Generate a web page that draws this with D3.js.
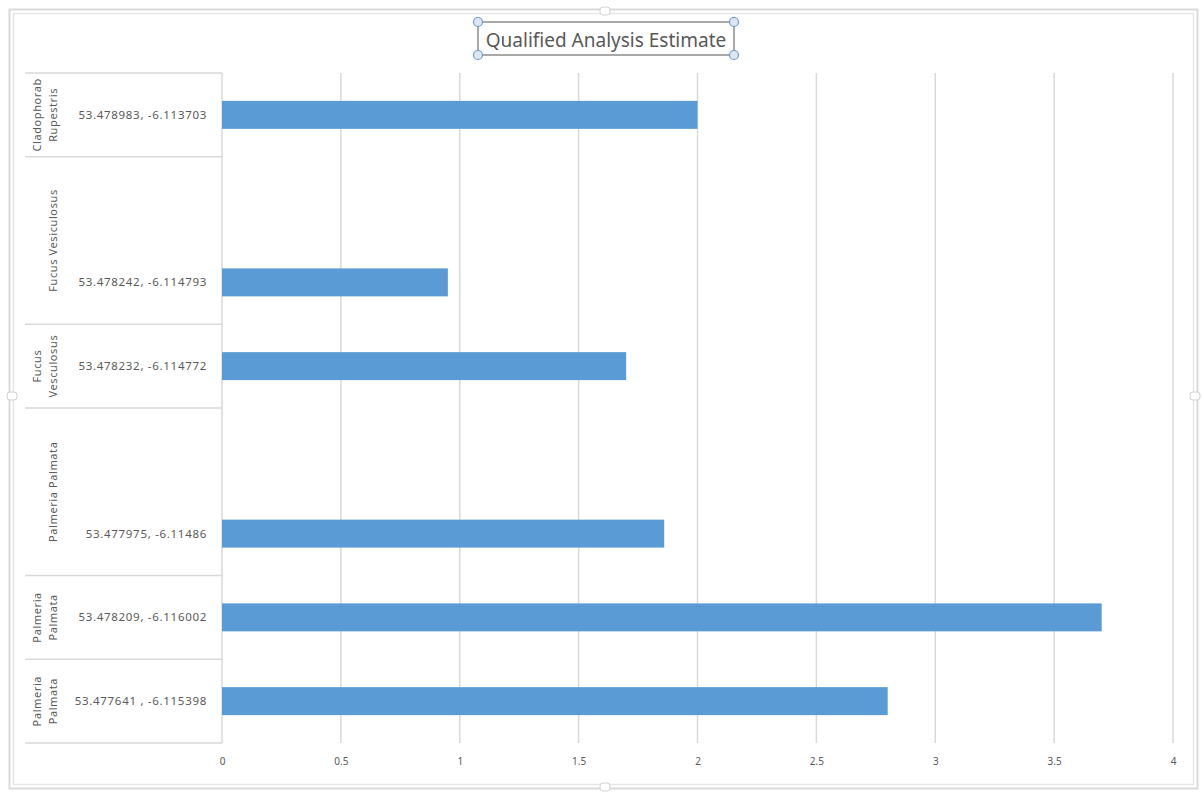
<!DOCTYPE html>
<html>
<head>
<meta charset="utf-8">
<script src="https://cdn.jsdelivr.net/npm/d3@7"></script>
<style>
  html, body { margin: 0; padding: 0; background: #ffffff; }
  svg { display: block; }
</style>
</head>
<body>
<svg id="chart" width="1203" height="792"></svg>
<script>
// Chart data: one slot per row, top to bottom
const groupNames = ["Cladophorab Rupestris", "Fucus Vesiculosus", "Fucus Vesculosus", "Palmeria Palmata", "Palmeria Palmata", "Palmeria Palmata"];
const groupLines = [["Cladophorab", "Rupestris"], ["Fucus Vesiculosus"], ["Fucus", "Vesculosus"], ["Palmeria Palmata"], ["Palmeria", "Palmata"], ["Palmeria", "Palmata"]];
const slotGroup = [0, 1, 1, 2, 3, 3, 4, 5];
const locations = ["53.478983, -6.113703", "", "53.478242, -6.114793", "53.478232, -6.114772", "", "53.477975, -6.11486", "53.478209,  -6.116002", "53.477641 , -6.115398"];
const estimates = [2.0, null, 0.95, 1.7, null, 1.86, 3.7, 2.8];
const xTicks = [0, 0.5, 1, 1.5, 2, 2.5, 3, 3.5, 4];
const chartTitle = "Qualified Analysis Estimate";

const svg = d3.select("#chart");
const font = "'Noto Sans', 'Open Sans', sans-serif";
const textColor = "#595959";

// Plot geometry
const plot = { left: 222, right: 1173, top: 73, bottom: 743 };
const catLeft = 25;

const x = d3.scaleLinear().domain([0, 4]).range([plot.left, plot.right]);
const slot = d3.scaleBand().domain(d3.range(slotGroup.length)).range([plot.top, plot.bottom]);
const bar = d3.scaleBand().domain(d3.range(slotGroup.length)).range([plot.top, plot.bottom])
  .paddingInner(0.666).paddingOuter(0.333);

// Chart-area frame (selected object outline)
svg.append("rect").attr("x", 9.5).attr("y", 9.5).attr("width", 1188).attr("height", 779)
  .attr("fill", "none").attr("stroke", "#dadada").attr("stroke-width", 2);
svg.append("rect").attr("x", 13.5).attr("y", 13.5).attr("width", 1180).attr("height", 771)
  .attr("fill", "none").attr("stroke", "#e6e6e6").attr("stroke-width", 1.5);
[[605, 11], [605, 787], [12, 396], [1195, 396]].forEach(([cx, cy]) => {
  svg.append("rect").attr("x", cx - 5).attr("y", cy - 4).attr("width", 10).attr("height", 8).attr("rx", 3)
    .attr("fill", "#ffffff").attr("stroke", "#d0d0d0");
});

// Vertical gridlines
svg.append("g").selectAll("line").data(xTicks.filter(d => d > 0)).join("line")
  .attr("x1", d => x(d)).attr("x2", d => x(d))
  .attr("y1", plot.top).attr("y2", plot.bottom)
  .attr("stroke", "#d9d9d9").attr("stroke-width", 1.5);

// X axis labels
const xAxis = d3.axisBottom(x).tickValues(xTicks).tickSize(0).tickPadding(0).tickFormat(d3.format("~g"));
const gx = svg.append("g").attr("transform", `translate(0,${plot.bottom + 15})`).call(xAxis);
gx.select(".domain").remove();
gx.selectAll("text").attr("fill", textColor).style("font-family", font).style("font-size", "10px");

// Category axis box
const axisG = svg.append("g");
axisG.append("line").attr("x1", plot.left).attr("x2", plot.left)
  .attr("y1", plot.top).attr("y2", plot.bottom).attr("stroke", "#d9d9d9").attr("stroke-width", 1.5);

// Group boundaries
const groupSpans = [];
slotGroup.forEach((g, i) => {
  if (!groupSpans[g]) groupSpans[g] = { start: i, end: i };
  else groupSpans[g].end = i;
});
const boundaries = [plot.top].concat(groupSpans.map(s => slot(s.end) + slot.bandwidth()));
axisG.selectAll("line.grp").data(boundaries).join("line").attr("class", "grp")
  .attr("x1", catLeft).attr("x2", plot.left)
  .attr("y1", d => d).attr("y2", d => d)
  .attr("stroke", "#d9d9d9").attr("stroke-width", 1.5);

// Group labels (rotated)
groupSpans.forEach((s, g) => {
  const cy = (slot(s.start) + slot(s.end) + slot.bandwidth()) / 2;
  const lines = groupLines[g];
  const lineH = 16;
  lines.forEach((ln, k) => {
    const cx = 53 - (lines.length - 1 - k) * lineH;
    axisG.append("text")
      .attr("transform", `translate(${cx},${cy}) rotate(-90)`)
      .attr("text-anchor", "middle").attr("dy", "0.35em")
      .attr("fill", textColor).style("font-family", font).style("font-size", "11px")
      .style("letter-spacing", "0.6px")
      .text(ln);
  });
});

// Location labels
axisG.selectAll("text.loc").data(locations).join("text").attr("class", "loc")
  .attr("x", 207).attr("y", (d, i) => slot(i) + slot.bandwidth() / 2)
  .attr("text-anchor", "end").attr("dy", "0.35em")
  .attr("fill", textColor).style("font-family", font).style("font-size", "11.5px")
  .style("letter-spacing", "0.7px")
  .text(d => d);

// Bars
svg.append("g").selectAll("rect").data(estimates.map((v, i) => ({ v, i })).filter(d => d.v !== null)).join("rect")
  .attr("x", x(0)).attr("y", d => bar(d.i))
  .attr("width", d => x(d.v) - x(0)).attr("height", bar.bandwidth())
  .attr("fill", "#5b9bd5");

// Title with selection box
const titleG = svg.append("g");
titleG.append("text").attr("x", 606).attr("y", 40).attr("text-anchor", "middle").attr("dy", "0.35em")
  .attr("fill", textColor).style("font-family", font).style("font-size", "19px").text(chartTitle);
const tb = { x0: 478, x1: 734, y0: 22, y1: 55 };
titleG.append("rect").attr("x", tb.x0).attr("y", tb.y0).attr("width", tb.x1 - tb.x0).attr("height", tb.y1 - tb.y0)
  .attr("fill", "none").attr("stroke", "#8c8c8c").attr("stroke-width", 1.5);
[[tb.x0, tb.y0], [tb.x1, tb.y0], [tb.x0, tb.y1], [tb.x1, tb.y1]].forEach(([cx, cy]) => {
  titleG.append("circle").attr("cx", cx).attr("cy", cy).attr("r", 4.5)
    .attr("fill", "#dbe7f2").attr("stroke", "#6d9ccc").attr("stroke-width", 1.2);
});
</script>
</body>
</html>
